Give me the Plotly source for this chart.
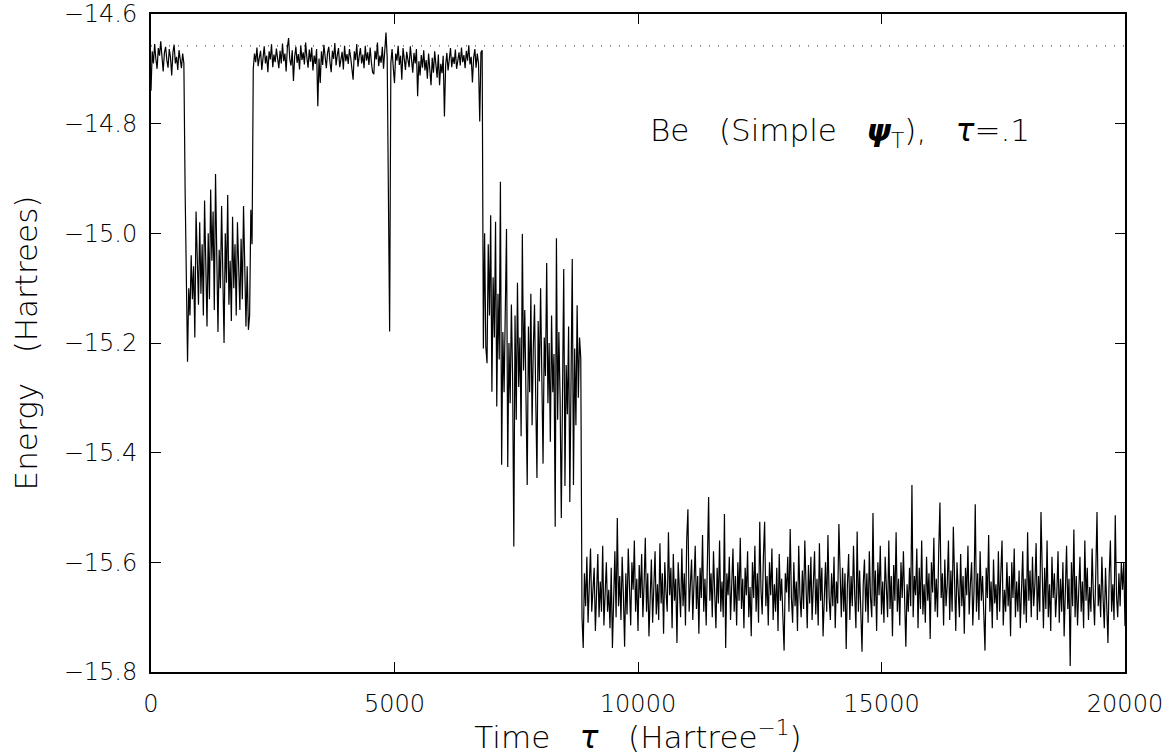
import plotly.graph_objects as go
import numpy as np

STEP = 25  # time step between samples (Hartree^-1)

# Segment start times
seg_starts = [0, 700, 2100, 6825, 8850]

seg_a = [-14.740, -14.668, -14.690, -14.655, -14.682, -14.700, -14.662, -14.676, -14.650, -14.688,
         -14.705, -14.671, -14.660, -14.684, -14.698, -14.664, -14.679, -14.712, -14.670, -14.656,
         -14.690, -14.678, -14.702, -14.666, -14.685, -14.699, -14.672, -14.690]

seg_b = [-14.918, -15.090, -15.234, -15.100, -15.150, -15.040, -15.120, -15.060, -15.190, -14.960,
         -15.080, -15.130, -14.980, -15.110, -15.020, -15.150, -14.940, -15.070, -15.170, -15.000,
         -15.120, -14.920, -15.050, -14.960, -15.140, -14.892, -15.080, -15.180, -15.030, -15.100,
         -14.950, -15.060, -15.200, -15.000, -15.090, -14.930, -15.130, -15.050, -15.160, -14.970,
         -15.100, -15.020, -15.150, -14.980, -15.070, -15.140, -15.010, -15.120, -14.950, -15.080,
         -15.170, -15.060, -15.176, -15.150, -14.957, -15.020]

seg_c = [-14.700, -14.672, -14.688, -14.661, -14.695, -14.679, -14.667, -14.702, -14.684, -14.659,
         -14.690, -14.676, -14.706, -14.668, -14.683, -14.655, -14.697, -14.674, -14.688, -14.663,
         -14.681, -14.699, -14.667, -14.690, -14.654, -14.686, -14.672, -14.705, -14.661, -14.644,
         -14.683, -14.694, -14.666, -14.722, -14.678, -14.660, -14.689, -14.673, -14.701, -14.657,
         -14.684, -14.670, -14.692, -14.652, -14.679, -14.698, -14.665, -14.687, -14.661, -14.703,
         -14.676, -14.691, -14.664, -14.768, -14.681, -14.726, -14.668, -14.693, -14.656, -14.684,
         -14.699, -14.671, -14.660, -14.688, -14.706, -14.667, -14.682, -14.653, -14.694, -14.675,
         -14.662, -14.697, -14.680, -14.669, -14.701, -14.658, -14.686, -14.673, -14.691, -14.664,
         -14.679, -14.703, -14.720, -14.668, -14.684, -14.655, -14.696, -14.677, -14.662, -14.690,
         -14.674, -14.699, -14.658, -14.685, -14.670, -14.693, -14.661, -14.688, -14.706, -14.710,
         -14.667, -14.683, -14.652, -14.695, -14.676, -14.689, -14.660, -14.700, -14.671, -14.634,
         -14.680, -15.010, -15.179, -14.690, -14.664, -14.698, -14.726, -14.672, -14.685, -14.658,
         -14.693, -14.676, -14.720, -14.662, -14.688, -14.702, -14.669, -14.684, -14.697, -14.659,
         -14.682, -14.707, -14.671, -14.690, -14.664, -14.750, -14.686, -14.712, -14.675, -14.698,
         -14.666, -14.703, -14.684, -14.718, -14.672, -14.695, -14.730, -14.680, -14.707, -14.668,
         -14.699, -14.716, -14.674, -14.730, -14.691, -14.708, -14.676, -14.787, -14.694, -14.671,
         -14.703, -14.684, -14.662, -14.697, -14.678, -14.691, -14.665, -14.700, -14.682, -14.670,
         -14.694, -14.661, -14.688, -14.675, -14.699, -14.667, -14.685, -14.657, -14.692, -14.678,
         -14.725, -14.680, -14.664, -14.698, -14.672, -14.690, -14.796, -14.670, -14.666]

seg_d = [-15.210, -15.000, -15.207, -15.237, -15.020, -15.150, -14.967, -15.289, -15.080, -15.190,
         -14.979, -15.316, -15.110, -15.230, -14.906, -15.422, -15.180, -15.290, -15.120, -14.992,
         -15.426, -15.200, -15.310, -15.130, -15.260, -15.571, -15.150, -15.340, -15.090, -15.280,
         -15.190, -15.370, -15.001, -15.250, -15.140, -15.320, -15.459, -15.170, -15.290, -15.110,
         -15.350, -15.210, -15.130, -15.300, -15.446, -15.160, -15.270, -15.100, -15.330, -15.420,
         -15.190, -15.260, -15.054, -15.310, -15.200, -15.380, -15.150, -15.290, -15.220, -15.535,
         -15.009, -15.340, -15.180, -15.300, -15.519, -15.200, -15.065, -15.461, -15.240, -15.330,
         -15.170, -15.490, -15.260, -15.047, -15.459, -15.210, -15.350, -15.131, -15.300, -15.190,
         -15.228]

seg_e = [-15.700, -15.756, -15.620, -15.680, -15.590, -15.710, -15.640, -15.575, -15.690, -15.655,
         -15.610, -15.725, -15.660, -15.585, -15.700, -15.635, -15.690, -15.570, -15.715, -15.645,
         -15.600, -15.690, -15.650, -15.720, -15.610, -15.756, -15.640, -15.580, -15.700, -15.519,
         -15.680, -15.625, -15.705, -15.590, -15.660, -15.754, -15.620, -15.695, -15.575, -15.670,
         -15.715, -15.600, -15.650, -15.560, -15.690, -15.630, -15.725, -15.605, -15.665, -15.585,
         -15.700, -15.640, -15.555, -15.690, -15.620, -15.735, -15.650, -15.595, -15.710, -15.630,
         -15.580, -15.695, -15.640, -15.705, -15.565, -15.675, -15.620, -15.730, -15.600, -15.655,
         -15.690, -15.545, -15.660, -15.610, -15.720, -15.585, -15.670, -15.630, -15.747, -15.600,
         -15.650, -15.700, -15.575, -15.680, -15.620, -15.715, -15.560, -15.503, -15.690, -15.640,
         -15.595, -15.705, -15.650, -15.570, -15.685, -15.625, -15.730, -15.610, -15.665, -15.550,
         -15.690, -15.630, -15.715, -15.600, -15.481, -15.670, -15.620, -15.700, -15.580, -15.655,
         -15.720, -15.610, -15.675, -15.560, -15.690, -15.635, -15.700, -15.512, -15.756, -15.620,
         -15.660, -15.590, -15.705, -15.640, -15.575, -15.690, -15.625, -15.715, -15.600, -15.670,
         -15.555, -15.685, -15.630, -15.720, -15.610, -15.660, -15.580, -15.700, -15.645, -15.735,
         -15.600, -15.665, -15.570, -15.690, -15.620, -15.710, -15.526, -15.650, -15.695, -15.590,
         -15.526, -15.680, -15.625, -15.715, -15.600, -15.660, -15.575, -15.705, -15.640, -15.690,
         -15.610, -15.725, -15.585, -15.670, -15.630, -15.700, -15.761, -15.620, -15.655, -15.590,
         -15.690, -15.539, -15.665, -15.710, -15.600, -15.680, -15.635, -15.725, -15.570, -15.660,
         -15.700, -15.615, -15.685, -15.560, -15.650, -15.720, -15.605, -15.675, -15.590, -15.705,
         -15.640, -15.580, -15.695, -15.630, -15.715, -15.565, -15.670, -15.610, -15.735, -15.645,
         -15.600, -15.690, -15.550, -15.665, -15.705, -15.620, -15.680, -15.590, -15.720, -15.635,
         -15.675, -15.530, -15.650, -15.700, -15.610, -15.690, -15.620, -15.758, -15.640, -15.585,
         -15.705, -15.625, -15.680, -15.570, -15.660, -15.720, -15.544, -15.690, -15.615, -15.700,
         -15.763, -15.640, -15.595, -15.690, -15.620, -15.710, -15.580, -15.665, -15.700, -15.510,
         -15.680, -15.615, -15.725, -15.600, -15.660, -15.570, -15.695, -15.635, -15.710, -15.590,
         -15.650, -15.700, -15.560, -15.685, -15.625, -15.735, -15.605, -15.670, -15.545, -15.690,
         -15.630, -15.715, -15.600, -15.665, -15.580, -15.700, -15.754, -15.640, -15.690, -15.610,
         -15.680, -15.459, -15.700, -15.625, -15.660, -15.575, -15.720, -15.610, -15.685, -15.560,
         -15.695, -15.640, -15.710, -15.590, -15.670, -15.620, -15.740, -15.600, -15.655, -15.555,
         -15.690, -15.630, -15.700, -15.580, -15.491, -15.665, -15.620, -15.715, -15.595, -15.680,
         -15.640, -15.560, -15.705, -15.615, -15.690, -15.535, -15.670, -15.725, -15.600, -15.655,
         -15.700, -15.585, -15.680, -15.625, -15.730, -15.610, -15.660, -15.570, -15.695, -15.640,
         -15.600, -15.715, -15.650, -15.494, -15.690, -15.620, -15.705, -15.580, -15.670, -15.625,
         -15.700, -15.761, -15.610, -15.665, -15.550, -15.690, -15.635, -15.720, -15.595, -15.675,
         -15.640, -15.705, -15.580, -15.690, -15.620, -15.560, -15.715, -15.650, -15.690, -15.600,
         -15.680, -15.625, -15.735, -15.600, -15.665, -15.575, -15.700, -15.635, -15.690, -15.615,
         -15.720, -15.655, -15.580, -15.695, -15.630, -15.710, -15.545, -15.670, -15.615, -15.700,
         -15.590, -15.680, -15.640, -15.565, -15.705, -15.625, -15.690, -15.508, -15.660, -15.720,
         -15.610, -15.685, -15.560, -15.700, -15.640, -15.725, -15.590, -15.665, -15.620, -15.700,
         -15.655, -15.580, -15.710, -15.630, -15.690, -15.600, -15.735, -15.650, -15.570, -15.685,
         -15.630, -15.789, -15.600, -15.680, -15.540, -15.700, -15.625, -15.715, -15.660, -15.590,
         -15.690, -15.635, -15.720, -15.560, -15.670, -15.610, -15.705, -15.645, -15.690, -15.575,
         -15.660, -15.715, -15.620, -15.508, -15.680, -15.640, -15.700, -15.590, -15.665, -15.720,
         -15.610, -15.680, -15.747, -15.625, -15.560, -15.690, -15.640, -15.705, -15.514, -15.660,
         -15.700, -15.620, -15.680, -15.600, -15.650, -15.600, -15.716]

reference_energy = -14.658  # dotted reference level
x_ticks = [0, 5000, 10000, 15000, 20000]
y_ticks = [-14.6, -14.8, -15.0, -15.2, -15.4, -15.6, -15.8]

segments = [seg_a, seg_b, seg_c, seg_d, seg_e]
time = []
energy = []
for start, seg in zip(seg_starts, segments):
    time.extend(start + STEP * np.arange(len(seg)))
    energy.extend(seg)

FONT = "DejaVu Sans, sans-serif"
W = 300  # light weight
SP3 = "\u00a0\u00a0\u00a0"

fig = go.Figure()
fig.add_trace(go.Scatter(x=[0, 20000], y=[reference_energy, reference_energy], mode="lines",
                         line=dict(color="#555555", width=1.2, dash="1px,8px"),
                         hoverinfo="skip", showlegend=False))
fig.add_trace(go.Scatter(x=time, y=energy, mode="lines",
                         line=dict(color="black", width=1.2),
                         showlegend=False))

axis_common = dict(showline=True, linecolor="black", linewidth=2, mirror="ticks",
                   ticks="inside", ticklen=10, tickwidth=1.3, tickcolor="black",
                   showgrid=False, zeroline=False,
                   tickfont=dict(family=FONT, size=24, color="black", weight=W))

fig.update_xaxes(range=[0, 20000], tickvals=x_ticks, ticktext=[str(v) for v in x_ticks],
                 ticklabelstandoff=9,
                 title=dict(text="Time" + SP3 + "<i>τ</i>" + SP3 + "(Hartree<sup>−1</sup>)",
                            font=dict(family=FONT, size=31, color="black", weight=W), standoff=4),
                 **axis_common)
fig.update_yaxes(range=[-15.8, -14.6], tickvals=y_ticks, tickformat=".1f",
                 ticklabelstandoff=7,
                 title=dict(text="Energy" + SP3 + "(Hartrees)",
                            font=dict(family=FONT, size=31, color="black", weight=W), standoff=17),
                 **axis_common)

fig.add_annotation(x=0.707, y=0.82, xref="paper", yref="paper", showarrow=False,
                   text="Be" + SP3 + "(Simple" + SP3 + "<b><i>ψ</i></b><sub>T</sub>)," + SP3 + "<i>τ</i>=.1",
                   font=dict(family=FONT, size=31, color="black", weight=W),
                   xanchor="center", yanchor="middle")

fig.update_layout(width=1168, height=755, paper_bgcolor="white", plot_bgcolor="white",
                  margin=dict(l=151, r=43, t=14, b=83, autoexpand=False),
                  showlegend=False)

fig.write_html("out.html", config={"displayModeBar": False},
               post_script="document.body.style.margin='0px';document.body.style.overflow='hidden';")
